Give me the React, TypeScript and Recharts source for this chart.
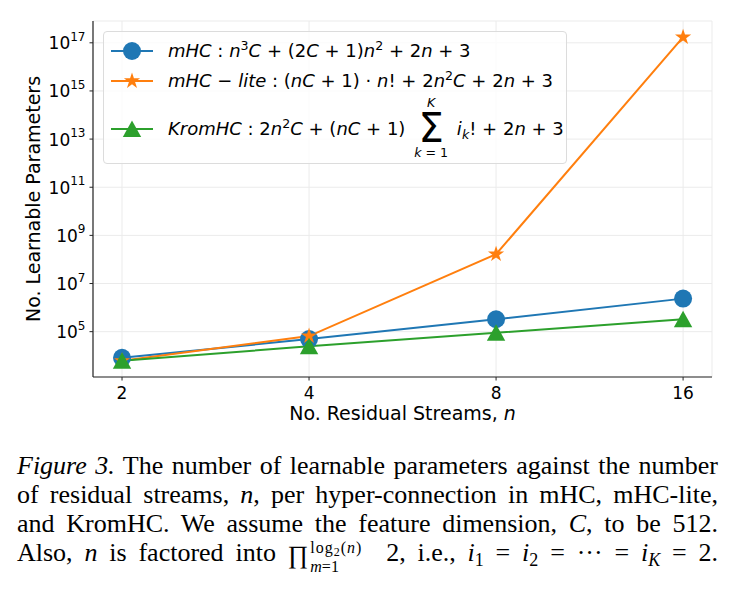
import React from "react";
import { LineChart, Line, XAxis, YAxis, CartesianGrid, Legend } from "recharts";

// learnable parameters per hyper-connection, C = 512
const streams = [2, 4, 8, 16];
const mhcParams = [8203, 49179, 327763, 2359587];
const mhcLiteParams = [6153, 65571, 165256595, 1.714e17];
const kromhcParams = [6153, 24591, 90137, 327723];

const xTicks = [2, 4, 8, 16];
const yTicks = [1e5, 1e7, 1e9, 1e11, 1e13, 1e15, 1e17];

const BLUE = "#1f77b4";
const ORANGE = "#ff7f0e";
const GREEN = "#2ca02c";
const AXIS = "#262626";
const GRID = "#ebebeb";
const SANS = "'DejaVu Sans', sans-serif";
const SERIF = "'Liberation Serif', 'Times New Roman', serif";

const xDomain = [1.796, 17.81];
const yDomain = [1309, 8.05e17];

const data = streams.map((n, i) => ({
  n,
  mhc: mhcParams[i],
  mhcLite: mhcLiteParams[i],
  kromhc: kromhcParams[i],
}));

const starPath = (cx: number, cy: number, R: number) => {
  const r = R * 0.382;
  const pts: string[] = [];
  for (let k = 0; k < 10; k++) {
    const a = -Math.PI / 2 + (k * Math.PI) / 5;
    const rad = k % 2 === 0 ? R : r;
    pts.push(`${cx + rad * Math.cos(a)},${cy + rad * Math.sin(a)}`);
  }
  return pts.join(" ");
};

const Circle = ({ cx, cy }: { cx: number; cy: number }) => <circle cx={cx} cy={cy} r={9} fill={BLUE} />;
const Star = ({ cx, cy }: { cx: number; cy: number }) => <polygon points={starPath(cx, cy, 8.5)} fill={ORANGE} />;
const Triangle = ({ cx, cy }: { cx: number; cy: number }) => (
  <polygon points={`${cx},${cy - 8.5} ${cx - 9.2},${cy + 8} ${cx + 9.2},${cy + 8}`} fill={GREEN} />
);

const dotOf = (Marker: any) => (props: any) => <Marker key={`m-${props.index}`} cx={props.cx} cy={props.cy} />;

const PowerTick = ({ x, y, payload }: any) => {
  const exp = Math.round(Math.log10(payload.value));
  return (
    <text x={x} y={y + 6.5} textAnchor="end" fontFamily={SANS} fontSize={17} fill="#000">
      10
      <tspan dy={-8.5} fontSize={12}>
        {exp}
      </tspan>
    </text>
  );
};

const I = ({ children }: { children: React.ReactNode }) => <span style={{ fontStyle: "italic" }}>{children}</span>;
const Sup = ({ children }: { children: React.ReactNode }) => (
  <span style={{ fontSize: 12.6, position: "relative", top: -7 }}>{children}</span>
);
const Sub = ({ children }: { children: React.ReactNode }) => (
  <span style={{ fontSize: 12.6, position: "relative", top: 4 }}>{children}</span>
);

const Handle = ({ color, children }: { color: string; children: React.ReactNode }) => (
  <svg width={42} height={30} style={{ position: "absolute", left: 7, top: 0 }}>
    <line x1={0} y1={15} x2={42} y2={15} stroke={color} strokeWidth={2} />
    {children}
  </svg>
);

const LegendRow = ({ top, handle, children }: { top: number; handle: React.ReactNode; children: React.ReactNode }) => (
  <div style={{ position: "absolute", left: 0, top: top - 15, height: 30, width: "100%" }}>
    {handle}
    <div style={{ position: "absolute", left: 64, top: 0, lineHeight: "30px", whiteSpace: "nowrap" }}>{children}</div>
  </div>
);

// summation with limits, laid out around a zero-height spacer sitting on the baseline
const SumSign = () => (
  <span style={{ position: "relative", display: "inline-block", width: 34, height: 0, margin: "0 3px" }}>
    <span
      style={{ position: "absolute", left: 0, width: 34, textAlign: "center", top: -22, fontSize: 40, lineHeight: "30px" }}
    >
      Σ
    </span>
    <span
      style={{ position: "absolute", left: 0, width: 34, textAlign: "center", top: -39, fontSize: 12.6, lineHeight: "14px" }}
    >
      <I>K</I>
    </span>
    <span
      style={{
        position: "absolute",
        left: -4,
        width: 42,
        textAlign: "center",
        top: 11,
        fontSize: 12.6,
        lineHeight: "14px",
        whiteSpace: "nowrap",
      }}
    >
      <I>k</I> = 1
    </span>
  </span>
);

const renderLegend = () => (
  <div
    style={{
      position: "relative",
      width: 464,
      height: 133,
      boxSizing: "border-box",
      border: "1px solid #dcdcdc",
      borderRadius: 4,
      background: "rgba(255,255,255,0.8)",
      fontFamily: SANS,
      fontSize: 18,
      color: "#000",
    }}
  >
    <LegendRow top={19} handle={<Handle color={BLUE}><Circle cx={21} cy={15} /></Handle>}>
      <I>mHC</I> : <I>n</I>
      <Sup>3</Sup>
      <I>C</I> + (2<I>C</I> + 1)<I>n</I>
      <Sup>2</Sup> + 2<I>n</I> + 3
    </LegendRow>
    <LegendRow top={49} handle={<Handle color={ORANGE}><Star cx={21} cy={15} /></Handle>}>
      <I>mHC</I> − <I>lite</I> : (<I>nC</I> + 1) · <I>n</I>! + 2<I>n</I>
      <Sup>2</Sup>
      <I>C</I> + 2<I>n</I> + 3
    </LegendRow>
    <LegendRow top={97} handle={<Handle color={GREEN}><Triangle cx={21} cy={15} /></Handle>}>
      <I>KromHC</I> : 2<I>n</I>
      <Sup>2</Sup>
      <I>C</I> + (<I>nC</I> + 1) <SumSign /> <I>i</I>
      <Sub>
        <I>k</I>
      </Sub>
      ! + 2<I>n</I> + 3
    </LegendRow>
  </div>
);

const captionLine: React.CSSProperties = {
  height: 29,
  lineHeight: "29px",
  textAlign: "justify",
  textAlignLast: "justify",
  whiteSpace: "nowrap",
};

const M = ({ children }: { children: React.ReactNode }) => <span style={{ fontStyle: "italic" }}>{children}</span>;
const CSub = ({ children }: { children: React.ReactNode }) => (
  <span style={{ fontSize: 18, position: "relative", top: 5 }}>{children}</span>
);

export default function App() {
  return (
    <div style={{ position: "absolute", left: 0, top: 0, width: 740, height: 609, background: "#fff" }}>
      <LineChart width={740} height={430} data={data} margin={{ top: 21, right: 28, bottom: 23, left: 33 }}>
        <CartesianGrid stroke={GRID} strokeWidth={1} />
        <XAxis
          dataKey="n"
          type="number"
          scale="log"
          domain={xDomain}
          allowDataOverflow
          ticks={xTicks}
          height={30}
          axisLine={{ stroke: AXIS, strokeWidth: 1.2 }}
          tickLine={{ stroke: AXIS }}
          tickSize={3.5}
          tickMargin={6}
          tick={{ fontFamily: SANS, fontSize: 17, fill: "#000" }}
          label={{
            content: ({ viewBox }: any) => (
              <text
                x={viewBox.x + viewBox.width / 2}
                y={420}
                textAnchor="middle"
                fontFamily={SANS}
                fontSize={19}
                fill="#000"
              >
                No. Residual Streams, <tspan fontStyle="italic">n</tspan>
              </text>
            ),
          }}
        />
        <XAxis
          xAxisId="top"
          orientation="top"
          type="number"
          scale="log"
          domain={xDomain}
          allowDataOverflow
          height={0}
          tick={false}
          tickLine={false}
          axisLine={{ stroke: AXIS, strokeWidth: 1.2 }}
        />
        <YAxis
          type="number"
          scale="log"
          domain={yDomain}
          allowDataOverflow
          ticks={yTicks}
          width={60}
          axisLine={{ stroke: AXIS, strokeWidth: 1.2 }}
          tickLine={{ stroke: AXIS }}
          tickSize={3.5}
          tickMargin={4}
          tick={<PowerTick />}
          label={{
            content: ({ viewBox }: any) => {
              const cy = viewBox.y + viewBox.height / 2;
              return (
                <text
                  x={40}
                  y={cy}
                  transform={`rotate(-90 40 ${cy})`}
                  textAnchor="middle"
                  fontFamily={SANS}
                  fontSize={19}
                  fill="#000"
                >
                  No. Learnable Parameters
                </text>
              );
            },
          }}
        />
        <YAxis
          yAxisId="right"
          orientation="right"
          type="number"
          scale="log"
          domain={yDomain}
          allowDataOverflow
          width={0}
          tick={false}
          tickLine={false}
          axisLine={{ stroke: AXIS, strokeWidth: 1.2 }}
        />
        <Line
          type="linear"
          dataKey="mhc"
          stroke={BLUE}
          strokeWidth={2}
          dot={dotOf(Circle)}
          activeDot={false}
          isAnimationActive={false}
        />
        <Line
          type="linear"
          dataKey="mhcLite"
          stroke={ORANGE}
          strokeWidth={2}
          dot={dotOf(Star)}
          activeDot={false}
          isAnimationActive={false}
        />
        <Line
          type="linear"
          dataKey="kromhc"
          stroke={GREEN}
          strokeWidth={2}
          dot={dotOf(Triangle)}
          activeDot={false}
          isAnimationActive={false}
        />
        <Legend
          content={renderLegend}
          layout="horizontal"
          verticalAlign="middle"
          align="center"
          wrapperStyle={{ left: 103, top: 31, width: 464, height: 133 }}
        />
      </LineChart>

      <div
        style={{
          position: "absolute",
          left: 17,
          top: 451,
          width: 701,
          fontFamily: SERIF,
          fontSize: 26,
          color: "#000",
        }}
      >
        <div style={captionLine}>
          <span style={{ fontStyle: "italic" }}>Figure 3.</span> The number of learnable parameters against the number
        </div>
        <div style={captionLine}>
          of residual streams, <M>n</M>, per hyper-connection in mHC, mHC-lite,
        </div>
        <div style={captionLine}>
          and KromHC. We assume the feature dimension, <M>C</M>, to be 512.
        </div>
        <div style={captionLine}>
          Also, <M>n</M> is factored into{" "}
          <span style={{ fontSize: 25, position: "relative", top: 2 }}>∏</span>
          <span style={{ position: "relative", display: "inline-block", width: 66, height: 0 }}>
            <span
              style={{
                position: "absolute",
                left: 2,
                top: -20,
                fontSize: 16,
                lineHeight: "14px",
                whiteSpace: "nowrap",
                letterSpacing: 1,
              }}
            >
              log<span style={{ fontSize: 12, position: "relative", top: 3 }}>2</span>(<M>n</M>)
            </span>
            <span
              style={{ position: "absolute", left: 2, top: -1, fontSize: 16, lineHeight: "14px", whiteSpace: "nowrap" }}
            >
              <M>m</M>=1
            </span>
          </span>{" "}
          2, i.e., <M>i</M>
          <CSub>1</CSub> = <M>i</M>
          <CSub>2</CSub> = ··· = <M>i</M>
          <CSub>
            <M>K</M>
          </CSub>{" "}
          = 2.
        </div>
      </div>
    </div>
  );
}
